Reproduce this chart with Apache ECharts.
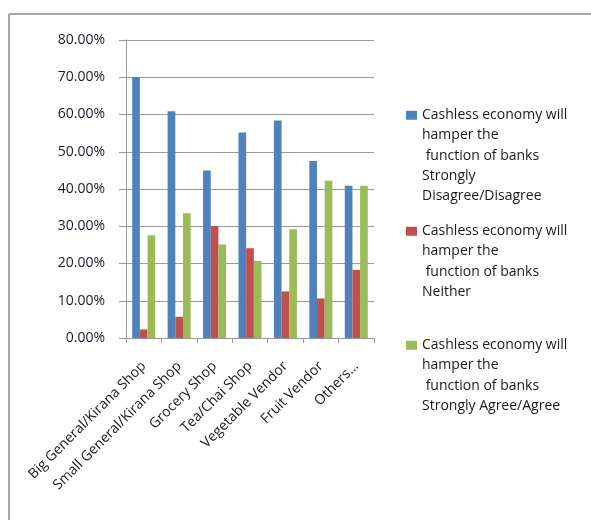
<!DOCTYPE html>
<html>
<head>
<meta charset="utf-8">
<script src="https://cdn.jsdelivr.net/npm/echarts@6/dist/echarts.min.js"></script>
<style>
  html, body { margin: 0; padding: 0; background: #ffffff; }
  #chart { width: 591px; height: 520px; }
</style>
</head>
<body>
<div id="chart"></div>
<script>
// Shop categories along the x axis
const categories = [
  'Big General/Kirana Shop',
  'Small General/Kirana Shop',
  'Grocery Shop',
  'Tea/Chai Shop',
  'Vegetable Vendor',
  'Fruit Vendor',
  'Others...'
];

// Share of respondents (%) per response
const disagreeValues = [70.0, 60.9, 45.0, 55.2, 58.4, 47.5, 40.9];
const neitherValues  = [2.3, 5.7, 30.1, 24.1, 12.5, 10.6, 18.3];
const agreeValues    = [27.6, 33.5, 25.1, 20.7, 29.2, 42.2, 40.9];

// Legend names (multi-line)
const seriesNames = [
  'Cashless economy will\nhamper the\n function of banks\nStrongly\nDisagree/Disagree',
  'Cashless economy will\nhamper the\n function of banks\nNeither',
  'Cashless economy will\nhamper the\n function of banks\nStrongly Agree/Agree'
];

// Y axis ticks
const yMin = 0, yMax = 80, yStep = 10;

const colors = ['#4F81BD', '#C0504D', '#9BBB59'];
const FONT = 'Open Sans';
const LINE_H = 20.3;
const SQ_W = 11, SQ_H = 9;

// One legend per series. The icon box spans the whole text block and the
// square is drawn at its top, so it sits beside the first line of text.
function legendFor(i, top) {
  const lines = seriesNames[i].split('\n').length;
  const boxH = lines * LINE_H;
  const sqTop = (LINE_H - SQ_H) / 2;
  const icon = 'path://M0,' + sqTop + 'h' + SQ_W + 'v' + SQ_H + 'h-' + SQ_W + 'Z' +
               'M0,0L0.001,0M0,' + boxH + 'L0.001,' + boxH;
  return {
    orient: 'vertical',
    left: 406,
    top: top,
    padding: 0,
    itemWidth: SQ_W,
    itemHeight: boxH,
    itemGap: 0,
    data: [{ name: seriesNames[i], icon: icon }],
    textStyle: {
      fontFamily: FONT,
      fontSize: 14,
      color: '#1a1a1a',
      lineHeight: LINE_H
    }
  };
}

const chart = echarts.init(document.getElementById('chart'), null, { renderer: 'canvas' });

chart.setOption({
  animation: false,
  backgroundColor: '#ffffff',
  color: colors,
  graphic: [
    { type: 'line', shape: { x1: 9, y1: 14, x2: 591, y2: 14 }, style: { stroke: '#a6a6a6', lineWidth: 2 } },
    { type: 'line', shape: { x1: 9, y1: 14, x2: 9, y2: 520 }, style: { stroke: '#a6a6a6', lineWidth: 2 } }
  ],
  legend: [
    legendFor(0, 105),
    legendFor(1, 221),
    legendFor(2, 335)
  ],
  grid: { left: 126, right: 217, top: 40, height: 298 },
  xAxis: {
    type: 'category',
    data: categories,
    axisLine: { lineStyle: { color: '#9a9a9a', width: 1 } },
    axisTick: { show: true, length: 5, alignWithLabel: false, lineStyle: { color: '#9a9a9a' } },
    axisLabel: {
      interval: 0,
      rotate: 45,
      margin: 26,
      fontFamily: FONT,
      fontSize: 14,
      color: '#1a1a1a'
    }
  },
  yAxis: {
    type: 'value',
    min: yMin,
    max: yMax,
    interval: yStep,
    axisLine: { show: true, lineStyle: { color: '#9a9a9a', width: 1 } },
    axisTick: { show: true, length: 7, lineStyle: { color: '#9a9a9a' } },
    splitLine: { show: true, lineStyle: { color: '#9a9a9a', width: 1 } },
    axisLabel: {
      margin: 21,
      fontFamily: FONT,
      fontSize: 14,
      color: '#1a1a2a',
      formatter: v => v.toFixed(2) + '%'
    }
  },
  series: [
    { name: seriesNames[0], type: 'bar', data: disagreeValues, barGap: '0%', barCategoryGap: '35%' },
    { name: seriesNames[1], type: 'bar', data: neitherValues, barGap: '0%', barCategoryGap: '35%' },
    { name: seriesNames[2], type: 'bar', data: agreeValues, barGap: '0%', barCategoryGap: '35%' }
  ]
});
</script>
</body>
</html>
